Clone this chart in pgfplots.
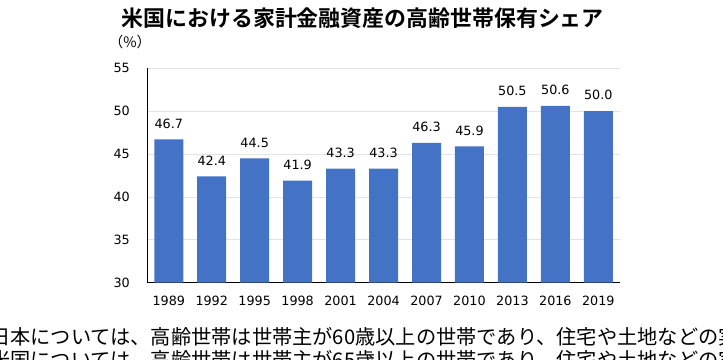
\documentclass[border=0pt]{standalone}
\usepackage{fontspec}
\usepackage{pgfplots}
\pgfplotsset{compat=1.18}
\setmainfont{DejaVu Sans}
\newfontfamily\jp{Noto Sans CJK JP}
\newfontfamily\jpb{Noto Sans CJK JP Bold}
\definecolor{barblue}{HTML}{4472C4}
\definecolor{gridgray}{HTML}{E3E3E3}
\begin{document}
\begin{tikzpicture}[x=1bp,y=1bp]
\begin{axis}[
  at={(147.3bp,77.5bp)}, anchor=south west,
  scale only axis, width=472.5bp, height=214.2bp,
  ybar, bar width=29bp,
  xmin=-0.5, xmax=10.5, ymin=30, ymax=55,
  xtick=data,
  xticklabels={1989,1992,1995,1998,2001,2004,2007,2010,2013,2016,2019},
  ytick={30,35,40,45,50,55},
  axis x line=bottom, axis y line=left,
  axis line style={-, black, line width=0.8pt},
  major tick length=0pt,
  ymajorgrids, grid style={gridgray, line width=0.6pt},
  /pgf/number format/assume math mode=true,
  tick label style={font=\fontsize{12.8}{14}\selectfont, text=black},
  yticklabel style={xshift=-14bp},
  xticklabel style={yshift=-10bp},
  nodes near coords={\pgfmathprintnumber[fixed,fixed zerofill,precision=1,assume math mode=true]{\pgfplotspointmeta}},
  nodes near coords style={font=\fontsize{12.8}{14}\selectfont, text=black, anchor=south, yshift=7.5bp},
]
\addplot[fill=barblue, draw=none] coordinates {
  (0,46.7) (1,42.4) (2,44.5) (3,41.9) (4,43.3) (5,43.3)
  (6,46.3) (7,45.9) (8,50.5) (9,50.6) (10,50.0)
};
\end{axis}
\node[anchor=base, inner sep=0pt] at (362.7bp,333bp) {\jpb\fontsize{22}{24}\selectfont 米国における家計金融資産の高齢世帯保有シェア};
\node[anchor=center, inner sep=0pt] at (130bp,317.5bp) {\jp\fontsize{14.5}{16}\selectfont （\%）};
\node[anchor=base west, inner sep=0pt] at (-10bp,16bp) {\jp\fontsize{20.3}{22}\selectfont 日本については、高齢世帯は世帯主が60歳以上の世帯であり、住宅や土地などの実};
\node[anchor=base west, inner sep=0pt] at (-10bp,-7.5bp) {\jp\fontsize{20.3}{22}\selectfont 米国については、高齢世帯は世帯主が65歳以上の世帯であり、住宅や土地などの実};
\pgfresetboundingbox
\useasboundingbox (0,0) rectangle (723bp,360bp);
\end{tikzpicture}
\end{document}
